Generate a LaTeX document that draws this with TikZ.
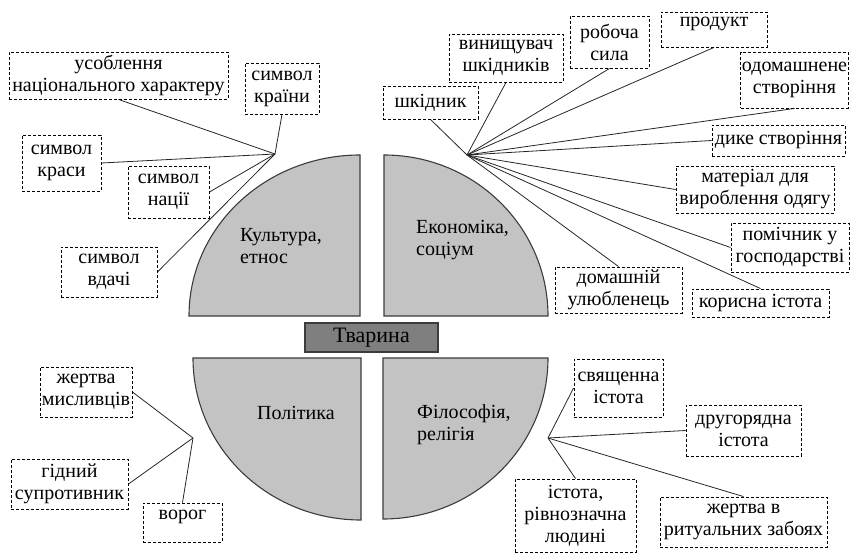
\documentclass[tikz,border=0pt]{standalone}
\usepackage{fontspec}
\setmainfont{Liberation Serif}
\usepackage{xcolor}
\usetikzlibrary{positioning, backgrounds}
\definecolor{sectorgray}{HTML}{C3C3C3}
\definecolor{sectorline}{HTML}{3C3C3C}
\definecolor{coregray}{HTML}{7F7F7F}
\tikzset{
  note/.style={draw=black, dash pattern=on 3pt off 2pt, line width=0.9pt, fill=white, align=center, inner sep=1pt, font=\fontsize{20}{22}\selectfont},
  sector/.style={draw=sectorline, line width=1.1pt, fill=sectorgray},
  sectorlabel/.style={align=left, anchor=west, inner sep=0pt, font=\fontsize{20}{22}\selectfont},
  core/.style={draw=sectorline, line width=1.1pt, fill=coregray, align=center, font=\fontsize{22}{24}\selectfont},
  link/.style={draw=black!85, line width=0.8pt},
}

\begin{document}
\begin{tikzpicture}[x=1pt, y=-1pt]
  \useasboundingbox (0,0) rectangle (851,553);

  % Four sectors round the centre
  \draw[sector] (360,316) -- (189,316) arc[start angle=180, end angle=270, x radius=171, y radius=161] -- cycle;
  \draw[sector] (384,316) -- (384,155) arc[start angle=270, end angle=360, x radius=164, y radius=161] -- cycle;
  \draw[sector] (361,358) -- (193,358) arc[start angle=180, end angle=90, x radius=168, y radius=162] -- cycle;
  \draw[sector] (383,358) -- (548,358) arc[start angle=0, end angle=90, x radius=165, y radius=161] -- cycle;

  \node[sectorlabel] (culture) at (240,246) {Культура,\\етнос};
  \node[sectorlabel] (economy) at (416,240) {Економіка,\\соціум};
  \node[sectorlabel] (politics) at (257,413) {Політика};
  \node[sectorlabel] (religion) at (417,425) {Філософія,\\релігія};

  \node[core, minimum width=133pt, minimum height=29pt] (animal) at (371.5,337.5) {Тварина};

  % Culture, ethnos (top left)
  \coordinate (culthub) at (275,154);
  \node[note, minimum width=219pt, minimum height=47pt] (usobl) at (118.5,75.5) {усоблення\\національного характеру};
  \node[note, minimum width=74pt, minimum height=51pt] (krainy) at (282,88.5) {символ\\країни};
  \node[note, minimum width=79pt, minimum height=56pt] (krasy) at (61.5,163) {символ\\краси};
  \node[note, minimum width=81pt, minimum height=52pt] (natsii) at (168.5,192) {символ\\нації};
  \node[note, minimum width=96pt, minimum height=50pt] (vdachi) at (109,272) {символ\\вдачі};

  % Economy, society (top right)
  \coordinate (econhub) at (467,155);
  \node[note, minimum width=95pt, minimum height=33pt] (shkidnyk) at (430.5,102.5) {шкідник};
  \node[note, minimum width=114pt, minimum height=48pt] (vynyshch) at (506,58) {винищувач\\шкідників};
  \node[note, minimum width=79pt, minimum height=52pt] (robocha) at (609.5,42) {робоча\\сила};
  \node[note, minimum width=106pt, minimum height=35pt] (produkt) at (714,29.5) {\raisebox{6pt}[\height][\depth]{продукт}};
  \node[note, minimum width=107pt, minimum height=56pt] (odomash) at (794.5,80) {одомашнене\\створіння};
  \node[note, minimum width=133pt, minimum height=31pt] (dyke) at (778.5,140.5) {дике створіння};
  \node[note, minimum width=158pt, minimum height=47pt] (material) at (755,189.5) {матеріал для\\вироблення одягу};
  \node[note, minimum width=118pt, minimum height=49pt] (pomich) at (790,247.5) {помічник у\\господарстві};
  \node[note, minimum width=127pt, minimum height=46pt] (domash) at (618.5,290) {домашній\\улюбленець};
  \node[note, minimum width=137pt, minimum height=28pt] (korysna) at (760.5,303) {корисна істота};

  % Politics (bottom left)
  \coordinate (polhub) at (193,438);
  \node[note, minimum width=92pt, minimum height=50pt] (zhertva) at (86,392) {жертва\\мисливців};
  \node[note, minimum width=117pt, minimum height=50pt] (hidnyi) at (69.5,484) {гідний\\супротивник};
  \node[note, minimum width=79pt, minimum height=39pt] (voroh) at (182.5,522.5) {\raisebox{6pt}[\height][\depth]{ворог}};

  % Philosophy, religion (bottom right)
  \coordinate (relhub) at (548,438);
  \node[note, minimum width=89pt, minimum height=58pt] (sviasch) at (618.5,388) {священна\\істота};
  \node[note, minimum width=115pt, minimum height=51pt] (druhor) at (743.5,430.5) {другорядна\\істота};
  \node[note, minimum width=121pt, minimum height=73pt] (istota) at (575.5,515.5) {істота,\\рівнозначна\\людині};
  \node[note, minimum width=167pt, minimum height=50pt] (ritual) at (743.5,522) {жертва в\\ритуальних забоях};

  \begin{pgfonlayer}{background}
    \foreach \n in {usobl.south, krainy.south, krasy.east, natsii.east, vdachi.east}
      \draw[link] (culthub) -- (\n);
    \foreach \n in {shkidnyk.south, vynyshch.south, robocha.south, produkt.south, odomash.south,
                    dyke.west, material.west, pomich.west, domash.north, korysna.north}
      \draw[link] (econhub) -- (\n);
    \foreach \n in {zhertva.east, hidnyi.east, voroh.north}
      \draw[link] (polhub) -- (\n);
    \foreach \n in {sviasch.west, druhor.west, istota.north, ritual.north}
      \draw[link] (relhub) -- (\n);
  \end{pgfonlayer}
\end{tikzpicture}
\end{document}
